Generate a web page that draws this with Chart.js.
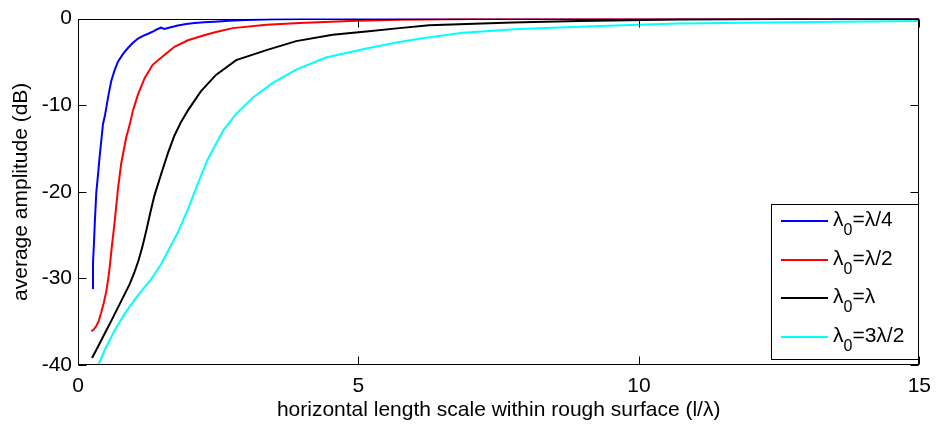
<!DOCTYPE html>
<html>
<head>
<meta charset="utf-8">
<title>average amplitude vs horizontal length scale</title>
<script src="https://cdn.jsdelivr.net/npm/chart.js@4/dist/chart.umd.min.js"></script>
<style>
  html, body { margin: 0; padding: 0; background: #fff; }
  #wrap { width: 940px; height: 427px; }
</style>
</head>
<body>
<div id="wrap"><canvas id="c" width="940" height="427"></canvas></div>
<script>
// l/lambda sample positions and average amplitude (dB) for each lambda_0 case
const blueX  = [0.25, 0.267, 0.285, 0.30, 0.326, 0.36, 0.386, 0.42, 0.445, 0.48, 0.504, 0.55, 0.593, 0.65, 0.71, 0.80, 0.89, 0.98, 1.07, 1.16, 1.25, 1.35, 1.42, 1.48, 1.54, 1.62, 1.78, 1.93, 2.08, 2.25, 2.43, 2.70, 3.0, 3.5, 4.0, 5.0, 6.0, 8.0, 10.0, 12.0, 15.0];
const blueY  = [-31.1, -28.3, -25.9, -23.5, -20.1, -17.8, -15.9, -13.8, -12.2, -11.2, -10.3, -8.6, -7.2, -6.0, -5.0, -4.1, -3.4, -2.8, -2.3, -2.0, -1.75, -1.45, -1.2, -1.05, -1.2, -1.05, -0.8, -0.62, -0.5, -0.42, -0.35, -0.25, -0.15, -0.08, -0.05, -0.02, -0.01, 0, 0, 0, 0];

const redX   = [0.237, 0.28, 0.326, 0.37, 0.415, 0.46, 0.504, 0.535, 0.564, 0.60, 0.653, 0.712, 0.771, 0.86, 0.92, 0.98, 1.07, 1.19, 1.33, 1.54, 1.72, 1.96, 2.25, 2.46, 2.76, 3.36, 3.95, 4.84, 5.73, 7.0, 9.0, 12.0, 15.0];
const redY   = [-36.1, -35.9, -35.5, -34.9, -33.9, -32.8, -31.5, -30.2, -28.8, -26.5, -23.5, -19.7, -16.7, -13.7, -12.3, -10.6, -8.75, -6.85, -5.34, -4.2, -3.26, -2.5, -1.93, -1.55, -1.1, -0.72, -0.5, -0.27, -0.12, -0.05, -0.03, -0.02, -0.01];

const blackX = [0.25, 0.356, 0.474, 0.593, 0.741, 0.919, 1.0, 1.08, 1.15, 1.22, 1.29, 1.36, 1.48, 1.60, 1.72, 1.84, 1.96, 2.19, 2.46, 2.82, 3.36, 3.89, 4.54, 5.14, 5.73, 6.26, 7.74, 8.93, 10.7, 12.5, 15.0];
const blackY = [-39.2, -37.9, -36.4, -34.9, -33.0, -30.7, -29.4, -27.9, -26.3, -24.4, -22.4, -20.5, -18.0, -15.6, -13.5, -11.9, -10.6, -8.4, -6.5, -4.8, -3.64, -2.6, -1.86, -1.48, -1.1, -0.76, -0.45, -0.27, -0.11, -0.06, -0.03];

const cyanX  = [0.35, 0.474, 0.653, 0.83, 1.04, 1.28, 1.48, 1.60, 1.69, 1.78, 1.96, 2.14, 2.31, 2.49, 2.59, 2.82, 3.12, 3.48, 3.89, 4.42, 5.14, 5.73, 6.14, 6.86, 7.86, 8.93, 10.12, 10.7, 12.7, 15.0];
const cyanY  = [-40.2, -38.3, -36.0, -34.1, -32.2, -30.3, -28.4, -26.9, -25.8, -24.7, -22.0, -19.0, -16.3, -14.1, -12.9, -11.0, -9.1, -7.4, -5.9, -4.5, -3.45, -2.7, -2.27, -1.63, -1.2, -0.95, -0.68, -0.57, -0.42, -0.27];

// legend entries: main symbol, subscript, remainder
const legendParts = [
  ['\u03BB', '0', '=\u03BB/4'],
  ['\u03BB', '0', '=\u03BB/2'],
  ['\u03BB', '0', '=\u03BB'],
  ['\u03BB', '0', '=3\u03BB/2']
];
const seriesColors = ['#0000FF', '#FF0000', '#000000', '#00FFFF'];

const xTicks = [0, 5, 10, 15];
const yTicks = [-40, -30, -20, -10, 0];

const FONT = '"Liberation Sans", Arial, Helvetica, sans-serif';

function pts(xs, ys) { return xs.map((x, i) => ({ x: x, y: ys[i] })); }

const seriesData = [pts(blueX, blueY), pts(redX, redY), pts(blackX, blackY), pts(cyanX, cyanY)];

// frame, inward tick marks on all four sides, and the boxed legend
const framePlugin = {
  id: 'frame',
  afterDraw(chart) {
    const ctx = chart.ctx;
    const a = chart.chartArea;
    const xs = chart.scales.x, ys = chart.scales.y;
    ctx.save();
    ctx.strokeStyle = '#000';
    ctx.lineWidth = 1;
    const L = Math.round(a.left) + 0.5, R = Math.round(a.right) - 0.5;
    const T = Math.round(a.top) + 0.5, B = Math.round(a.bottom) - 0.5;
    ctx.strokeRect(L, T, R - L, B - T);
    const tl = 8;
    ctx.beginPath();
    xTicks.forEach(v => {
      const px = Math.round(xs.getPixelForValue(v)) + 0.5;
      ctx.moveTo(px, B); ctx.lineTo(px, B - tl);
      ctx.moveTo(px, T); ctx.lineTo(px, T + tl);
    });
    yTicks.forEach(v => {
      const py = Math.round(ys.getPixelForValue(v)) + 0.5;
      ctx.moveTo(L, py); ctx.lineTo(L + tl, py);
      ctx.moveTo(R, py); ctx.lineTo(R - tl, py);
    });
    ctx.stroke();

    // legend box
    const lx = 771.5, ly = 204.5, lw = 147, lh = 155;
    ctx.fillStyle = '#fff';
    ctx.fillRect(lx, ly, lw, lh);
    ctx.strokeRect(lx, ly, lw, lh);
    const rowY = [221, 260, 298, 337];
    legendParts.forEach((p, i) => {
      const y = rowY[i];
      ctx.strokeStyle = seriesColors[i];
      ctx.lineWidth = 2;
      ctx.beginPath();
      ctx.moveTo(781, y); ctx.lineTo(828, y);
      ctx.stroke();
      ctx.fillStyle = '#000';
      ctx.textBaseline = 'alphabetic';
      ctx.textAlign = 'left';
      let x = 833;
      ctx.font = '21px ' + FONT;
      ctx.fillText(p[0], x, y + 5);
      x += ctx.measureText(p[0]).width;
      ctx.font = '16px ' + FONT;
      ctx.fillText(p[1], x, y + 14);
      x += ctx.measureText(p[1]).width;
      ctx.font = '21px ' + FONT;
      ctx.fillText(p[2], x, y + 5);
    });
    ctx.restore();
  }
};

new Chart(document.getElementById('c'), {
  type: 'line',
  data: {
    datasets: seriesData.map((d, i) => ({
      label: legendParts[i].join(''),
      data: d,
      borderColor: seriesColors[i],
      backgroundColor: seriesColors[i],
      borderWidth: 2,
      pointRadius: 0,
      tension: 0,
      fill: false,
      order: 3 - i
    }))
  },
  options: {
    responsive: false,
    animation: false,
    devicePixelRatio: 1,
    layout: { padding: { top: 13, right: 19, left: 0, bottom: 0 } },
    plugins: { legend: { display: false }, tooltip: { enabled: false } },
    scales: {
      x: {
        type: 'linear',
        min: 0, max: 15,
        afterBuildTicks(s) { s.ticks = xTicks.map(v => ({ value: v })); },
        afterFit(s) { s.height = 62; },
        grid: { display: false, drawTicks: false },
        border: { display: false },
        ticks: { color: '#000', font: { family: FONT, size: 21 }, padding: 9, maxRotation: 0 },
        title: {
          display: true,
          text: 'horizontal length scale within rough surface (l/\u03BB)',
          color: '#000',
          font: { family: FONT, size: 21 },
          padding: { top: 0, bottom: 4 }
        }
      },
      y: {
        type: 'linear',
        min: -40, max: 0,
        afterBuildTicks(s) { s.ticks = yTicks.map(v => ({ value: v })); },
        afterFit(s) { s.width = 78; },
        grid: { display: false, drawTicks: false },
        border: { display: false },
        ticks: { color: '#000', font: { family: FONT, size: 21 }, padding: 6 },
        title: {
          display: true,
          text: 'average amplitude (dB)',
          color: '#000',
          font: { family: FONT, size: 21 },
          padding: { top: 9, bottom: 0 }
        }
      }
    }
  },
  plugins: [framePlugin]
});
</script>
</body>
</html>
